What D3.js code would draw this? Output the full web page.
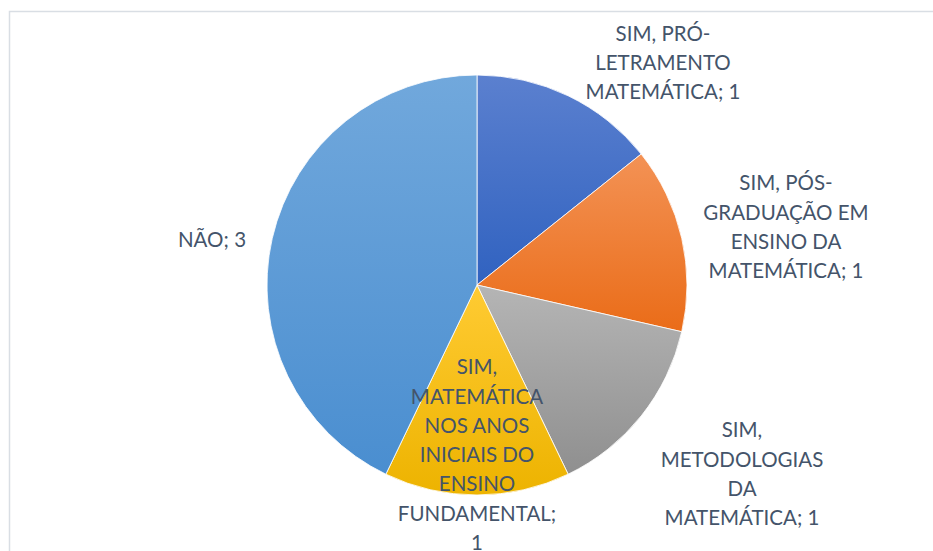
<!DOCTYPE html>
<html>
<head>
<meta charset="utf-8">
<script src="https://cdn.jsdelivr.net/npm/d3@7"></script>
<style>
  body { margin: 0; background: #fff; }
  svg { display: block; }
</style>
</head>
<body>
<div id="chart"></div>
<script>
// data
var categories = [
  "SIM, PRÓ-LETRAMENTO MATEMÁTICA",
  "SIM, PÓS-GRADUAÇÃO EM ENSINO DA MATEMÁTICA",
  "SIM, METODOLOGIAS DA MATEMÁTICA",
  "SIM, MATEMÁTICA NOS ANOS INICIAIS DO ENSINO FUNDAMENTAL",
  "NÃO"
];
var values = [1, 1, 1, 1, 3];
// wrapped label text as Excel shows it
var labelLines = [
  ["SIM, PRÓ-", "LETRAMENTO", "MATEMÁTICA; 1"],
  ["SIM, PÓS-", "GRADUAÇÃO EM", "ENSINO DA", "MATEMÁTICA; 1"],
  ["SIM,", "METODOLOGIAS", "DA", "MATEMÁTICA; 1"],
  ["SIM,", "MATEMÁTICA", "NOS ANOS", "INICIAIS DO", "ENSINO", "FUNDAMENTAL;", "1"],
  ["NÃO; 3"]
];

var svgWidth = 933;
var svgHeight = 551;
var cx = 477, cy = 285, radius = 210;

// top / bottom colours of each slice gradient
var colorsTop = ["#5B80CF", "#F39255", "#B5B5B5", "#FFCB33", "#71A8DC"];
var colorsBottom = ["#3062C0", "#EA6C18", "#8F8F8F", "#EDB300", "#4A8ED0"];

// label centre offsets from the pie centre (layout only)
var labelPos = [[186, -222], [309, -58], [265, 189], [0, 170], [-265, -45]];
var lineH = 29.3;

var svg = d3.select("#chart")
  .append("svg")
  .attr("width", svgWidth)
  .attr("height", svgHeight);

// chart area border
svg.append("rect")
  .attr("x", 9.5)
  .attr("y", 11.5)
  .attr("width", 1000)
  .attr("height", 700)
  .attr("fill", "none")
  .attr("stroke", "#D9DEE4")
  .attr("stroke-width", 1.5);

var defs = svg.append("defs");
categories.forEach(function(c, i) {
  var g = defs.append("linearGradient")
    .attr("id", "grad" + i)
    .attr("x1", 0).attr("y1", 0)
    .attr("x2", 0).attr("y2", 1);
  g.append("stop").attr("offset", "0%").attr("stop-color", colorsTop[i]);
  g.append("stop").attr("offset", "100%").attr("stop-color", colorsBottom[i]);
});

var pie = d3.pie().sort(null).value(function(d) { return d; });
var arc = d3.arc().innerRadius(0).outerRadius(radius);

var chartGroup = svg.append("g")
  .attr("transform", `translate(${cx}, ${cy})`);

chartGroup.selectAll("path")
  .data(pie(values))
  .enter()
  .append("path")
  .attr("d", arc)
  .attr("fill", function(d, i) { return "url(#grad" + i + ")"; })
  .attr("stroke", "#ffffff")
  .attr("stroke-width", 0.8);

// data labels
var labels = chartGroup.selectAll("text.lbl")
  .data(labelLines)
  .enter()
  .append("text")
  .attr("class", "lbl")
  .attr("text-anchor", "middle")
  .style("font-family", "Lato, 'Open Sans', sans-serif")
  .style("font-size", "20.5px")
  .attr("fill", "#44546A");

labels.each(function(lines, i) {
  var t = d3.select(this);
  var y0 = labelPos[i][1] - (lines.length - 1) * lineH / 2;
  lines.forEach(function(l, k) {
    t.append("tspan")
      .attr("x", labelPos[i][0])
      .attr("y", y0 + k * lineH)
      .attr("dy", "0.35em")
      .text(l);
  });
});
</script>
</body>
</html>
